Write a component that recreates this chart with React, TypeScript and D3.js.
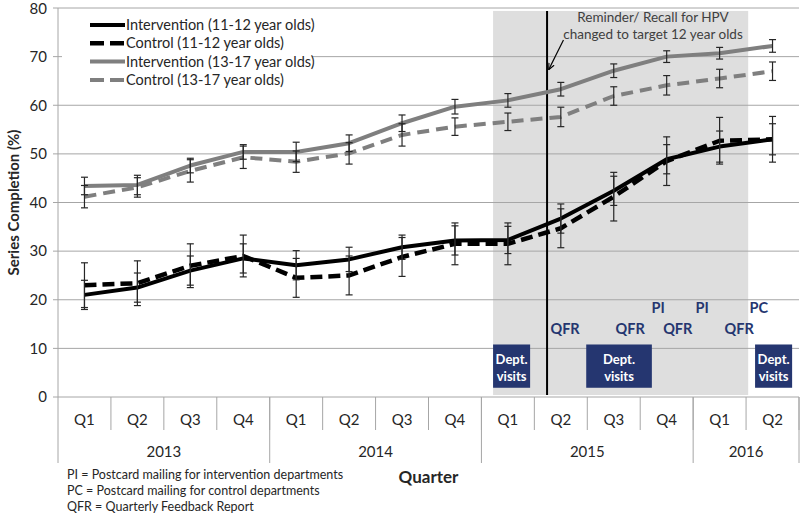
import React from "react";
import * as d3 from "d3";

const quarters = ["Q1", "Q2", "Q3", "Q4", "Q1", "Q2", "Q3", "Q4", "Q1", "Q2", "Q3", "Q4", "Q1", "Q2"];
const yearLabels = ["2013", "2014", "2015", "2016"];
const yearQuarterCounts = [4, 4, 4, 2];
const yTicks = [0, 10, 20, 30, 40, 50, 60, 70, 80];

const int1112 = [21, 22.5, 26, 28.5, 27.1, 28.3, 30.8, 32.2, 32.3, 36.7, 42.4, 48.9, 51.5, 53];
const int1112Err = [3, 3, 3, 3, 3, 2.5, 2.5, 3, 2.8, 3, 3, 3, 3.2, 3.2];
const ctl1112 = [23, 23.4, 27, 29, 24.5, 25, 28.8, 31.5, 31.5, 34.7, 41.2, 48.5, 52.7, 53];
const ctl1112Err = [4.6, 4.6, 4.5, 4.3, 4, 4, 4, 4.3, 4.3, 4, 5, 5, 4.8, 4.7];
const int1317 = [43.4, 43.6, 47.6, 50.4, 50.4, 52.2, 56.3, 59.7, 61, 63.3, 67.1, 70, 70.7, 72.2];
const int1317Err = [1.8, 2, 1.5, 1.5, 2, 1.7, 1.7, 1.5, 1.4, 1.4, 1.4, 1.2, 1.2, 1.3];
const ctl1317 = [41.2, 43.1, 46.5, 49.3, 48.4, 50.1, 53.9, 55.6, 56.6, 57.6, 61.9, 64.1, 65.5, 67];
const ctl1317Err = [2.3, 2, 2.3, 2.3, 2.2, 2.2, 2.3, 1.8, 1.8, 2, 1.9, 2, 1.9, 1.9];

const seriesNames = [
  "Intervention (11-12 year olds)",
  "Control (11-12 year olds)",
  "Intervention (13-17 year olds)",
  "Control (13-17 year olds)",
];

// annotation positions in axis units (0 = left edge, 14 = right edge) / value units
const shadeRange = [8.22, 13.04];
const changeLineAt = 9.24;
const qfrMarks = [9.58, 10.81, 11.71, 12.87];
const piMarks = [11.34, 12.17];
const pcMarks = [13.24];
const deptVisits = [
  [8.22, 8.92],
  [9.98, 11.22],
  [13.17, 13.87],
];
const footnotes = [
  "PI = Postcard mailing for intervention departments",
  "PC = Postcard mailing for control departments",
  "QFR = Quarterly Feedback Report",
];

const FONT = "Lato, 'Open Sans', sans-serif";
const NAVY = "#253670";
const GREY = "#7f7f7f";

export default function App() {
  const x = d3.scaleLinear().domain([0, 14]).range([58, 799]);
  const y = d3.scaleLinear().domain([0, 80]).range([397, 8]);
  const xc = (i: number) => x(i + 0.5);

  const series = [
    { vals: int1112, err: int1112Err, color: "#000", dash: "", width: 4 },
    { vals: ctl1112, err: ctl1112Err, color: "#000", dash: "12 6", width: 4.5 },
    { vals: int1317, err: int1317Err, color: GREY, dash: "", width: 4 },
    { vals: ctl1317, err: ctl1317Err, color: GREY, dash: "12 7", width: 4 },
  ];

  const line = d3
    .line<number>()
    .x((_, i) => xc(i))
    .y((d) => y(d));

  let acc = 0;
  const yearBounds = yearQuarterCounts.map((c) => {
    const s = acc;
    acc += c;
    return [s, acc];
  });

  return (
    <svg
      width={800}
      height={515}
      style={{ position: "absolute", left: 0, top: 0, background: "#fff" }}
      fontFamily={FONT}
    >
      {/* shading */}
      <rect
        x={x(shadeRange[0])}
        y={y(79.4)}
        width={x(shadeRange[1]) - x(shadeRange[0])}
        height={y(0.4) - y(79.4)}
        fill="#dedede"
      />
      {/* gridlines */}
      {yTicks.map((t) => (
        <line key={t} x1={58} x2={799} y1={y(t)} y2={y(t)} stroke="#a6a6a6" strokeWidth={1} />
      ))}
      {/* y axis */}
      <line x1={58} x2={58} y1={y(80)} y2={463} stroke="#a6a6a6" />
      {yTicks.map((t) => (
        <g key={"yt" + t}>
          <line x1={53} x2={58} y1={y(t)} y2={y(t)} stroke="#a6a6a6" />
          <text x={47} y={Math.max(y(t), 9)} dy="0.35em" textAnchor="end" fontSize={15} fill="#262626">
            {t}
          </text>
        </g>
      ))}
      <text
        transform={`translate(14,${y(40)}) rotate(-90)`}
        textAnchor="middle"
        dy="0.35em"
        fontSize={15}
        fontWeight="bold"
        fill="#262626"
      >
        Series Completion (%)
      </text>
      {/* x axis categories */}
      {quarters.map((q, i) => (
        <g key={"q" + i}>
          <line x1={x(i + 1)} x2={x(i + 1)} y1={397} y2={430} stroke="#a6a6a6" />
          <text x={xc(i)} y={420} dy="0.35em" textAnchor="middle" fontSize={15} fill="#262626">
            {q}
          </text>
        </g>
      ))}
      {yearBounds.map(([s, e], i) => (
        <g key={"y" + i}>
          <line x1={x(e)} x2={x(e)} y1={397} y2={463} stroke="#a6a6a6" />
          <text x={x((s + e) / 2)} y={452} dy="0.35em" textAnchor="middle" fontSize={15} fill="#262626">
            {yearLabels[i]}
          </text>
        </g>
      ))}
      <text x={x(7)} y={477} dy="0.35em" textAnchor="middle" fontSize={17} fontWeight="bold" fill="#262626">
        Quarter
      </text>
      {footnotes.map((f, i) => (
        <text key={f} x={67} y={475 + i * 16} dy="0.35em" fontSize={12.5} fill="#262626">
          {f}
        </text>
      ))}
      {/* change line */}
      <line x1={x(changeLineAt)} x2={x(changeLineAt)} y1={y(79.4)} y2={y(0.4)} stroke="#000" strokeWidth={2} />
      {/* series lines */}
      {series.map((s, k) => (
        <path
          key={"l" + k}
          d={line(s.vals) || ""}
          fill="none"
          stroke={s.color}
          strokeWidth={s.width}
          strokeDasharray={s.dash}
          strokeLinejoin="round"
        />
      ))}
      {/* error bars */}
      {series.map((s, k) =>
        s.vals.map((v, i) => {
          const cx = xc(i);
          const y1 = y(v + s.err[i]);
          const y2 = y(v - s.err[i]);
          return (
            <g key={"e" + k + "-" + i} stroke="#262626" strokeWidth={1.2}>
              <line x1={cx} x2={cx} y1={y1} y2={y2} />
              <line x1={cx - 3.5} x2={cx + 3.5} y1={y1} y2={y1} />
              <line x1={cx - 3.5} x2={cx + 3.5} y1={y2} y2={y2} />
            </g>
          );
        })
      )}
      {/* legend */}
      <rect x={62} y={14} width={250} height={76} fill="#fff" />
      {series.map((s, k) => (
        <g key={"lg" + k}>
          <line
            x1={90}
            x2={125}
            y1={25 + k * 18.3}
            y2={25 + k * 18.3}
            stroke={s.color}
            strokeWidth={s.width}
            strokeDasharray={s.dash ? "14 6" : ""}
          />
          <text x={126} y={25 + k * 18.3} dy="0.35em" fontSize={14.5} fill="#262626">
            {seriesNames[k]}
          </text>
        </g>
      ))}
      {/* reminder annotation */}
      <text x={653} y={17} dy="0.35em" textAnchor="middle" fontSize={13.5} fill="#404040">
        Reminder/ Recall for HPV
      </text>
      <text x={653} y={34} dy="0.35em" textAnchor="middle" fontSize={13.5} fill="#404040">
        changed to target 12 year olds
      </text>
      <defs>
        <marker id="arr" viewBox="0 0 10 10" refX={9} refY={5} markerWidth={6} markerHeight={6} orient="auto">
          <path d="M0,1 L9,5 L0,9" fill="none" stroke="#000" strokeWidth={1.5} />
        </marker>
      </defs>
      <line x1={x(9.55)} y1={y(73.4)} x2={x(9.27)} y2={y(67.3)} stroke="#000" strokeWidth={1.2} markerEnd="url(#arr)" />
      {/* event labels */}
      {qfrMarks.map((m, i) => (
        <text key={"qfr" + i} x={x(m)} y={y(14)} dy="0.35em" textAnchor="middle" fontSize={14.5} fontWeight="bold" fill={NAVY}>
          QFR
        </text>
      ))}
      {piMarks.map((m, i) => (
        <text key={"pi" + i} x={x(m)} y={y(18.4)} dy="0.35em" textAnchor="middle" fontSize={14.5} fontWeight="bold" fill={NAVY}>
          PI
        </text>
      ))}
      {pcMarks.map((m, i) => (
        <text key={"pc" + i} x={x(m)} y={y(18.4)} dy="0.35em" textAnchor="middle" fontSize={14.5} fontWeight="bold" fill={NAVY}>
          PC
        </text>
      ))}
      {deptVisits.map(([a, b], i) => (
        <g key={"dv" + i}>
          <rect x={x(a)} y={y(10.8)} width={x(b) - x(a)} height={y(1.9) - y(10.8)} fill={NAVY} />
          <text x={x((a + b) / 2)} y={y(7.8)} dy="0.35em" textAnchor="middle" fontSize={13} fontWeight="bold" fill="#fff">
            Dept.
          </text>
          <text x={x((a + b) / 2)} y={y(4.3)} dy="0.35em" textAnchor="middle" fontSize={13} fontWeight="bold" fill="#fff">
            visits
          </text>
        </g>
      ))}
    </svg>
  );
}
